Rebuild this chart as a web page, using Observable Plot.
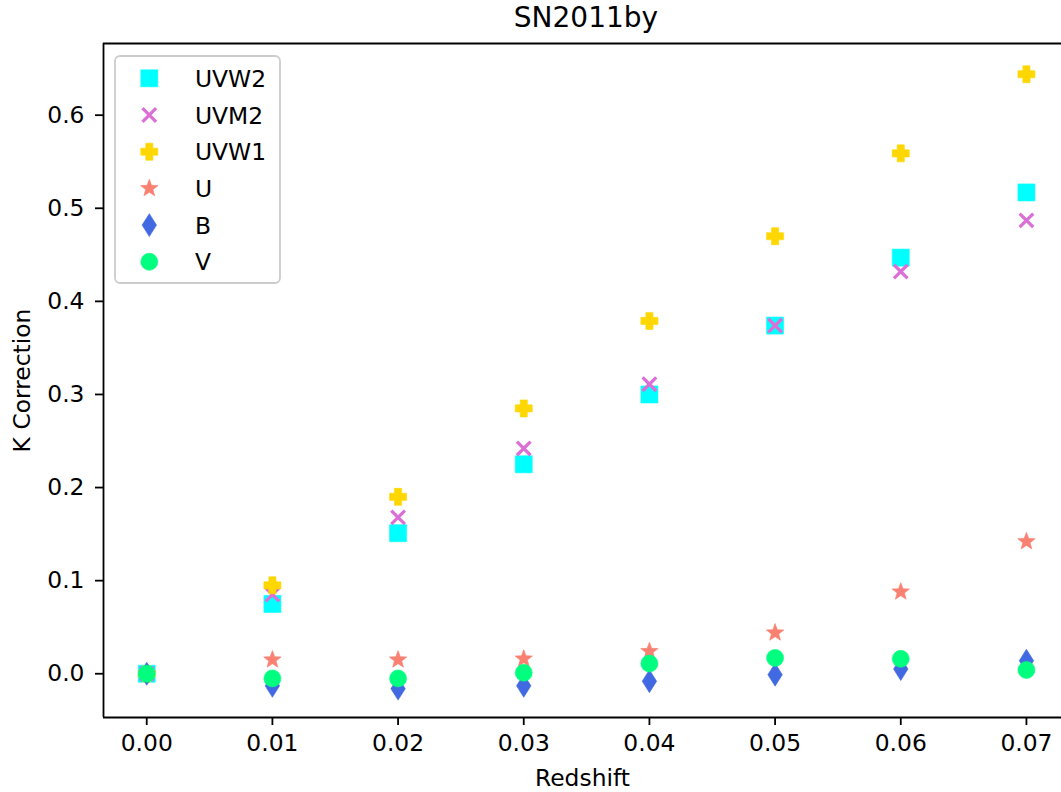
<!DOCTYPE html>
<html><head><meta charset="utf-8">
<script src="https://cdn.jsdelivr.net/npm/d3@7"></script>
<script src="https://cdn.jsdelivr.net/npm/@observablehq/plot@0.6"></script>
<style>
html,body{margin:0;padding:0;background:#fff;overflow:hidden}
#wrap{position:relative;width:1061px;height:792px;font-family:"DejaVu Sans",sans-serif;color:#000}
#title{position:absolute;left:386px;width:400px;top:1px;text-align:center;font-size:28px;line-height:34px}
#legend{position:absolute;left:0;top:0;pointer-events:none}
#chart{position:absolute;left:0;top:0}
</style></head><body><div id="wrap"><div id="chart"></div><div id="title">SN2011by</div><svg id="legend" width="1061" height="792"></svg></div>
<script>
// ---- data ----
const redshift = [0.00, 0.01, 0.02, 0.03, 0.04, 0.05, 0.06, 0.07];
const uvw2 = [0.000, 0.075, 0.151, 0.225, 0.300, 0.374, 0.447, 0.517];
const uvm2 = [0.000, 0.085, 0.168, 0.242, 0.311, 0.374, 0.432, 0.487];
const uvw1 = [0.000, 0.095, 0.190, 0.285, 0.379, 0.470, 0.559, 0.644];
const uBand = [0.000, 0.015, 0.015, 0.016, 0.024, 0.044, 0.088, 0.142];
const bBand = [0.000, -0.013, -0.016, -0.013, -0.008, -0.001, 0.005, 0.014];
const vBand = [0.000, -0.005, -0.005, 0.001, 0.011, 0.017, 0.016, 0.004];
const bandNames = ["UVW2", "UVM2", "UVW1", "U", "B", "V"];
const bandColors = ["#00ffff", "#da70d6", "#ffd700", "#fa8072", "#4169e1", "#00ff7f"];
const xTicks = [0.00, 0.01, 0.02, 0.03, 0.04, 0.05, 0.06, 0.07];
const yTicks = [0.0, 0.1, 0.2, 0.3, 0.4, 0.5, 0.6];
const xDomain = [-0.00344, 0.07279];
const yDomain = [-0.047, 0.677];

// ---- marker shapes (size -> radius) ----
const rOf = s => Math.sqrt(s / Math.PI);
const symSquare = {draw(c, s) { const r = rOf(s); c.rect(-r, -r, 2 * r, 2 * r); }};
const symCircle = {draw(c, s) { const r = rOf(s); c.moveTo(r, 0); c.arc(0, 0, r, 0, 2 * Math.PI); }};
const symTimes = {draw(c, s) { const r = rOf(s) * 0.8; c.moveTo(-r, -r); c.lineTo(r, r); c.moveTo(-r, r); c.lineTo(r, -r); }};
const symPlus = {draw(c, s) {
  const r = rOf(s), t = r * 0.42;
  const pts = [[-t,-r],[t,-r],[t,-t],[r,-t],[r,t],[t,t],[t,r],[-t,r],[-t,t],[-r,t],[-r,-t],[-t,-t]];
  c.moveTo(...pts[0]); for (const p of pts.slice(1)) c.lineTo(...p); c.closePath();
}};
const symStar = {draw(c, s) {
  const R = rOf(s) * 1.08, ri = R * 0.42;
  for (let i = 0; i < 10; i++) {
    const a = -Math.PI / 2 + i * Math.PI / 5, rr = i % 2 ? ri : R;
    const x = rr * Math.cos(a), y = rr * Math.sin(a);
    i ? c.lineTo(x, y) : c.moveTo(x, y);
  }
  c.closePath();
}};
const symThinDiamond = {draw(c, s) { const r = rOf(s); c.moveTo(0, -r * 1.35); c.lineTo(r * 0.85, 0); c.lineTo(0, r * 1.35); c.lineTo(-r * 0.85, 0); c.closePath(); }};

const seriesValues = [uvw2, uvm2, uvw1, uBand, bBand, vBand];
const bandSymbols = [symSquare, symTimes, symPlus, symStar, symThinDiamond, symCircle];
const R = 8.5;

const series = bandNames.map((name, i) => ({
  name, color: bandColors[i], symbol: bandSymbols[i],
  rows: redshift.map((z, j) => ({z, k: seriesValues[i][j], band: name}))
}));

const dotMarks = series.map(s => s.symbol === symTimes
  ? Plot.dot(s.rows, {x: "z", y: "k", symbol: s.symbol, r: R, stroke: s.color, fill: "none", strokeWidth: 3.3})
  : Plot.dot(s.rows, {x: "z", y: "k", symbol: s.symbol, r: R, fill: s.color, stroke: s.color, strokeWidth: 0.6}));

const chart = Plot.plot({
  width: 1061, height: 792,
  marginLeft: 103, marginRight: 0, marginTop: 43, marginBottom: 75,
  style: {fontFamily: "DejaVu Sans, sans-serif", fontSize: "23.4px", background: "white", color: "black"},
  x: {domain: xDomain},
  y: {domain: yDomain},
  marks: [
    ...dotMarks,
    Plot.ruleY(yDomain, {stroke: "black", strokeWidth: 1.8}),
    Plot.ruleX([xDomain[0]], {stroke: "black", strokeWidth: 1.8}),
    Plot.axisX({ticks: xTicks, tickFormat: d3.format(".2f"), tickSize: 8, tickPadding: 9, strokeWidth: 1.8,
      label: "Redshift", labelArrow: "none", labelAnchor: "center", labelOffset: 68}),
    Plot.axisY({ticks: yTicks, tickFormat: d3.format(".1f"), tickSize: 8, tickPadding: 11, strokeWidth: 1.8,
      label: "K Correction", labelArrow: "none", labelAnchor: "center", labelOffset: 90})
  ]
});
document.getElementById("chart").appendChild(chart);

// ---- legend ----
const leg = d3.select("#legend");
leg.append("rect").attr("x", 115).attr("y", 56).attr("width", 165).attr("height", 227)
  .attr("rx", 5).attr("fill", "white").attr("fill-opacity", 0.8).attr("stroke", "#cccccc").attr("stroke-width", 1.8);
const rowY0 = 78.3, rowStep = 36.7;
series.forEach((s, i) => {
  const cy = rowY0 + i * rowStep;
  const p = leg.append("path").attr("transform", `translate(149.3,${cy})`)
    .attr("d", d3.symbol(s.symbol, Math.PI * R * R)());
  if (s.symbol === symTimes) p.attr("fill", "none").attr("stroke", s.color).attr("stroke-width", 3.3);
  else p.attr("fill", s.color).attr("stroke", s.color).attr("stroke-width", 0.6);
  leg.append("text").attr("x", 195).attr("y", cy + 8.5).attr("font-size", 23.4)
    .attr("font-family", "DejaVu Sans, sans-serif").attr("fill", "black").text(s.name);
});
</script>
</body></html>
